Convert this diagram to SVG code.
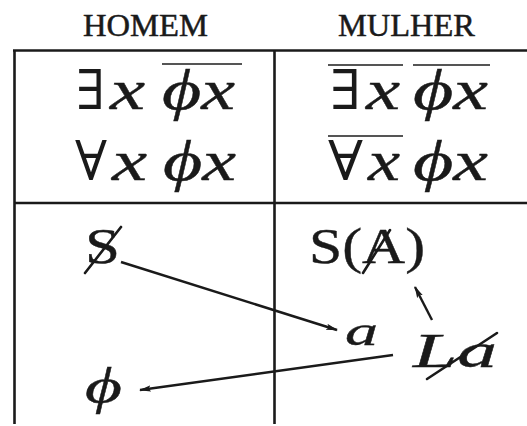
<svg xmlns="http://www.w3.org/2000/svg" width="527" height="426" viewBox="0 0 527 426">
<style>
.hdr{font-family:"Liberation Serif",serif;font-size:32px;fill:#1a1a1a;stroke:#1a1a1a;stroke-width:0.5}
.m{font-family:"Liberation Serif",serif;font-size:56px;font-style:italic;fill:#1a1a1a;stroke:#1a1a1a;stroke-width:0.4}
.q{font-family:"DejaVu Serif",serif;font-size:55px;fill:#1a1a1a}
.i{font-style:italic}
.b{font-family:"Liberation Serif",serif;fill:#1a1a1a;stroke:#1a1a1a;stroke-width:0.4}
.grid{stroke:#1a1a1a;stroke-width:2.6;fill:none}
.bar{stroke:#555;stroke-width:2}
.slash{stroke:#1a1a1a;stroke-width:2.6;stroke-linecap:round}
.arr{stroke:#1a1a1a;stroke-width:2.4;fill:none;marker-end:url(#ah)}
</style>
<defs>
<marker id="ah" viewBox="0 0 12 8" refX="11" refY="4" markerWidth="12" markerHeight="8" markerUnits="userSpaceOnUse" orient="auto">
<path d="M0,0.8 L12,4 L0,7.2 L2.5,4 Z" fill="#1a1a1a"/>
</marker>
<linearGradient id="fade" x1="0" y1="0" x2="1" y2="0">
<stop offset="0" stop-color="#1a1a1a"/>
<stop offset="0.85" stop-color="#1a1a1a"/>
<stop offset="1" stop-color="#1a1a1a" stop-opacity="0"/>
</linearGradient>
</defs>
<rect width="527" height="426" fill="#fff"/>
<g id="table">
<line class="grid" x1="13" y1="50.5" x2="527" y2="50.5"/>
<line class="grid" x1="14.5" y1="50" x2="14.5" y2="424"/>
<line class="grid" x1="274.5" y1="50" x2="274.5" y2="424"/>
<line class="grid" x1="14" y1="203" x2="527" y2="203"/>
<line x1="14" y1="423.5" x2="310" y2="423.5" stroke="url(#fade)" stroke-width="2.4"/>
</g>
<g id="headers">
<text class="hdr" x="83" y="36" textLength="125" lengthAdjust="spacingAndGlyphs">HOMEM</text>
<text class="hdr" x="338" y="36" textLength="137" lengthAdjust="spacingAndGlyphs">MULHER</text>
</g>
<g id="homem-quant">
<text class="q" x="76" y="109" textLength="29" lengthAdjust="spacingAndGlyphs">∃</text>
<text class="m" x="110" y="109" textLength="35" lengthAdjust="spacingAndGlyphs">x</text>
<text class="m" x="162" y="109" textLength="73" lengthAdjust="spacingAndGlyphs">ϕx</text>
<line class="bar" x1="162" y1="64" x2="242" y2="64"/>
<text class="q" x="75" y="180" textLength="32" lengthAdjust="spacingAndGlyphs">∀</text>
<text class="m" x="112" y="180" textLength="35" lengthAdjust="spacingAndGlyphs">x</text>
<text class="m" x="163" y="180" textLength="73" lengthAdjust="spacingAndGlyphs">ϕx</text>
</g>
<g id="mulher-quant">
<text class="q" x="330" y="109" textLength="31" lengthAdjust="spacingAndGlyphs">∃</text>
<text class="m" x="366" y="109" textLength="34" lengthAdjust="spacingAndGlyphs">x</text>
<line class="bar" x1="328" y1="65" x2="403" y2="65"/>
<text class="m" x="413" y="109" textLength="75" lengthAdjust="spacingAndGlyphs">ϕx</text>
<line class="bar" x1="413" y1="65" x2="490" y2="65"/>
<text class="q" x="328" y="180" textLength="35" lengthAdjust="spacingAndGlyphs">∀</text>
<text class="m" x="368" y="180" textLength="32" lengthAdjust="spacingAndGlyphs">x</text>
<line class="bar" x1="328" y1="136" x2="403" y2="136"/>
<text class="m" x="413" y="180" textLength="75" lengthAdjust="spacingAndGlyphs">ϕx</text>
</g>
<g id="node-S">
<text class="b" x="85" y="263" font-size="50" textLength="35" lengthAdjust="spacingAndGlyphs">S</text>
<line class="slash" x1="85" y1="273" x2="121" y2="227"/>
</g>
<g id="node-SA">
<text class="b" x="309" y="263" font-size="50" textLength="116" lengthAdjust="spacingAndGlyphs">S(A)</text>
<line class="slash" x1="363" y1="273" x2="390" y2="230"/>
</g>
<g id="node-a">
<text class="b i" x="345" y="345" font-size="42" textLength="33" lengthAdjust="spacingAndGlyphs">a</text>
</g>
<g id="node-La">
<text class="b i" x="413" y="367" font-size="48" textLength="84" lengthAdjust="spacingAndGlyphs">La</text>
<line class="slash" x1="427" y1="379" x2="497" y2="333"/>
</g>
<g id="node-phi">
<text class="b i" x="85" y="403" font-size="50" textLength="37" lengthAdjust="spacingAndGlyphs">ϕ</text>
</g>
<g id="connectors">
<line class="arr" x1="121" y1="262" x2="337" y2="330"/>
<line class="arr" x1="432" y1="320" x2="415" y2="287"/>
<line class="arr" x1="393" y1="355" x2="140" y2="390"/>
</g>
</svg>
